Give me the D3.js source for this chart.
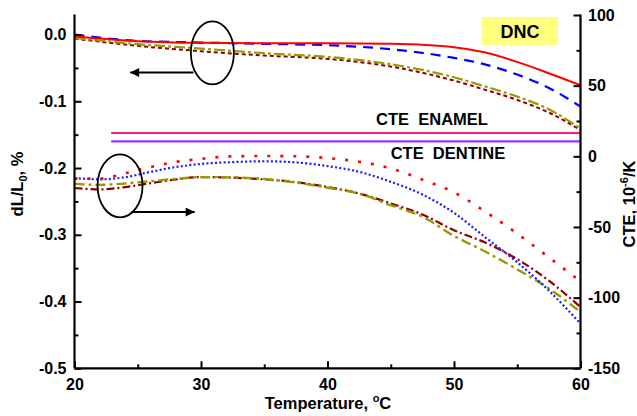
<!DOCTYPE html>
<html>
<head>
<meta charset="utf-8">
<script src="https://cdn.jsdelivr.net/npm/d3@7"></script>
<style>
  body { margin: 0; background: #fff; }
  svg text { font-family: "Liberation Sans", Arial, sans-serif; font-weight: bold; fill: #000; white-space: pre; }
</style>
</head>
<body>
<svg id="chart" width="637" height="416"></svg>
<script>
// dilatometric curves (left axis, dL/L0 %)
const tempsDL = [20, 25, 30, 35, 40, 45, 50, 52.5, 55, 57.5, 60];
const dlRed    = [-0.003, -0.010, -0.0125, -0.013, -0.013, -0.014, -0.019, -0.027, -0.041, -0.058, -0.076];
const dlBlue   = [0.0, -0.0095, -0.012, -0.014, -0.016, -0.022, -0.035, -0.045, -0.060, -0.080, -0.108];
const dlOlive  = [-0.005, -0.0145, -0.021, -0.028, -0.0335, -0.0445, -0.064, -0.078, -0.093, -0.112, -0.141];
const dlMaroon = [-0.006, -0.017, -0.025, -0.0315, -0.0365, -0.048, -0.069, -0.083, -0.098, -0.117, -0.143];

// CTE curves (right axis, 10^-6/K)
const tempsCTE = [20, 22, 24, 26, 28, 30, 32.5, 35, 37.5, 40, 42.5, 45, 47.5, 50, 52.5, 55, 57.5, 60];
const cteRed    = [-15.8, -15.8, -12, -7.6, -4, -1.8, 0, 0.2, 0, -1.2, -3.9, -8.5, -16.5, -25.5, -39.3, -54.7, -71.5, -88.5];
const cteBlue   = [-15.4, -16.3, -14.8, -11, -7.6, -5.4, -4.1, -3.5, -4.3, -6.9, -11, -18, -27, -40, -57.5, -75, -95, -118.4];
const cteMaroon = [-22.4, -23.4, -21.8, -19, -16.4, -14.7, -15.1, -16.3, -18.3, -21.7, -26.3, -33.3, -41.2, -52.3, -61.2, -72.8, -88, -106.7];
const cteOlive  = [-19.5, -20.2, -19.2, -17.6, -16, -14.7, -14.9, -16, -18.6, -22.2, -26.4, -34.6, -42.7, -56.3, -67.5, -80, -93.5, -110.2];

// reference CTE levels
const refNames = ['CTE  ENAMEL', 'CTE  DENTINE'];
const refValues = [16.5, 10.6];
const refFrom = 22.9;

const xTicks = [20, 30, 40, 50, 60];
const leftTicks = [0.0, -0.1, -0.2, -0.3, -0.4, -0.5];
const rightTicks = [100, 50, 0, -50, -100, -150];

const svg = d3.select('#chart');
const pLeft = 74.5, pRight = 580.5, pTop = 14.5, pBottom = 368.3;

const x = d3.scaleLinear().domain([20, 60]).range([pLeft, pRight]);
const yL = d3.scaleLinear().domain([-0.5, 0.03]).range([pBottom, pTop]);
const yR = d3.scaleLinear().domain([-150, 100]).range([pBottom, pTop + 0.5]);

const lineL = d3.line().x(d => x(d[0])).y(d => yL(d[1])).curve(d3.curveMonotoneX);
const lineR = d3.line().x(d => x(d[0])).y(d => yR(d[1])).curve(d3.curveMonotoneX);

function drawCurve(line, temps, vals, color, dash, w) {
    svg.append('path')
        .attr('d', line(temps.map((t, i) => [t, vals[i]])))
        .attr('fill', 'none')
        .attr('stroke', color)
        .attr('stroke-width', w)
        .attr('stroke-dasharray', dash);
}

// reference lines
const refColors = ['#ff1a8c', '#9933ff'];
refValues.forEach((v, i) => {
    svg.append('line')
        .attr('x1', x(refFrom)).attr('x2', x(60))
        .attr('y1', yR(v)).attr('y2', yR(v))
        .attr('stroke', refColors[i]).attr('stroke-width', 2.2);
});
svg.append('text').attr('x', 432).attr('y', 125).attr('text-anchor', 'middle')
    .style('font-size', '16.5px').text(refNames[0]);
svg.append('text').attr('x', 448).attr('y', 159).attr('text-anchor', 'middle')
    .style('font-size', '16.5px').text(refNames[1]);

// upper group
drawCurve(lineL, tempsDL, dlMaroon, '#8b0000', '4,3', 2);
drawCurve(lineL, tempsDL, dlOlive, '#999900', '11,3,3,3', 2.2);
drawCurve(lineL, tempsDL, dlBlue, '#0000ff', '10,7', 2.2);
drawCurve(lineL, tempsDL, dlRed, '#ff0000', null, 2);

// lower group
drawCurve(lineR, tempsCTE, cteMaroon, '#8b0000', '8,3,2,3', 2.2);
drawCurve(lineR, tempsCTE, cteOlive, '#999900', '10,4,3,4', 2.4);
drawCurve(lineR, tempsCTE, cteBlue, '#1a1aff', '2,2.3', 2.2);
drawCurve(lineR, tempsCTE, cteRed, '#ff0000', '3,10', 2.6);

// axes
const isMajorL = d => Math.abs(d * 10 - Math.round(d * 10)) < 1e-6;

const gx = svg.append('g').attr('transform', `translate(0,${pBottom})`)
    .call(d3.axisBottom(x).tickValues(d3.range(20, 61, 5)).tickSize(-7).tickFormat(d => xTicks.includes(d) ? d : ''));
gx.selectAll('.tick line').attr('y2', d => xTicks.includes(d) ? -7 : -4);

const gl = svg.append('g').attr('transform', `translate(${pLeft},0)`)
    .call(d3.axisLeft(yL).tickValues(d3.range(0, 11).map(i => -0.05 * i)).tickSize(-7)
        .tickFormat(d => isMajorL(d) ? d3.format('.1f')(d).replace('−', '-') : ''));
gl.selectAll('.tick line').attr('x2', d => isMajorL(d) ? 7 : 4);

const gr = svg.append('g').attr('transform', `translate(${pRight},0)`)
    .call(d3.axisRight(yR).tickValues(d3.range(-150, 101, 25)).tickSize(-7)
        .tickFormat(d => rightTicks.includes(d) ? d : ''));
gr.selectAll('.tick line').attr('x2', d => rightTicks.includes(d) ? -7 : -4);

[gx, gl, gr].forEach(g => {
    g.select('.domain').attr('stroke-width', 2.2).attr('stroke', '#000');
    g.selectAll('.tick line').attr('stroke-width', 2).attr('stroke', '#000');
    g.selectAll('.tick text').style('font-size', '16px').attr('fill', '#000');
});
gx.selectAll('.tick text').attr('y', 10);
gl.selectAll('.tick text').attr('x', -8);
gr.selectAll('.tick text').attr('x', 7.5);
gx.select('.domain').attr('d', `M${pLeft},0H${pRight}`);
gl.select('.domain').attr('d', `M0,${pTop}V${pBottom}`);
gr.select('.domain').attr('d', `M0,${pTop}V${pBottom}`);

// axis titles
svg.append('text').attr('x', 328).attr('y', 409).attr('text-anchor', 'middle')
    .style('font-size', '16.5px')
    .html('Temperature, <tspan dy="-7" font-size="11">o</tspan><tspan dy="7">C</tspan>');
svg.append('text').attr('transform', 'translate(23,184) rotate(-90)').attr('text-anchor', 'middle')
    .style('font-size', '16.5px')
    .html('dL/L<tspan dy="4" font-size="11">0</tspan><tspan dy="-4">, %</tspan>');
svg.append('text').attr('transform', 'translate(635,204) rotate(-90)').attr('text-anchor', 'middle')
    .style('font-size', '16.5px')
    .html('CTE, 10<tspan dy="-7" font-size="11">-6</tspan><tspan dy="7">/K</tspan>');

// DNC label
svg.append('rect').attr('x', 482).attr('y', 17).attr('width', 76).attr('height', 28).attr('fill', '#ffff80');
svg.append('text').attr('x', 520).attr('y', 38).attr('text-anchor', 'middle')
    .style('font-size', '18px').text('DNC');

// ellipses + arrows marking which axis each group uses
svg.append('defs').append('marker').attr('id', 'ah')
    .attr('viewBox', '0 0 10 10').attr('refX', 10).attr('refY', 5)
    .attr('markerWidth', 14).attr('markerHeight', 9).attr('markerUnits', 'userSpaceOnUse')
    .attr('orient', 'auto')
    .append('path').attr('d', 'M0,0L10,5L0,10z').attr('fill', '#000');

svg.append('ellipse').attr('cx', x(30.9)).attr('cy', yL(-0.0275)).attr('rx', 21.5).attr('ry', 31.5)
    .attr('fill', 'none').attr('stroke', '#000').attr('stroke-width', 1.8);
svg.append('line').attr('x1', x(29.4)).attr('x2', x(24.4)).attr('y1', yL(-0.057)).attr('y2', yL(-0.057))
    .attr('stroke', '#000').attr('stroke-width', 2).attr('marker-end', 'url(#ah)');

svg.append('ellipse').attr('cx', x(23.6)).attr('cy', yR(-20.9)).attr('rx', 22.5).attr('ry', 31.5)
    .attr('fill', 'none').attr('stroke', '#000').attr('stroke-width', 1.8);
svg.append('line').attr('x1', x(24.5)).attr('x2', x(29.5)).attr('y1', yR(-39.4)).attr('y2', yR(-39.4))
    .attr('stroke', '#000').attr('stroke-width', 2).attr('marker-end', 'url(#ah)');
</script>
</body>
</html>
